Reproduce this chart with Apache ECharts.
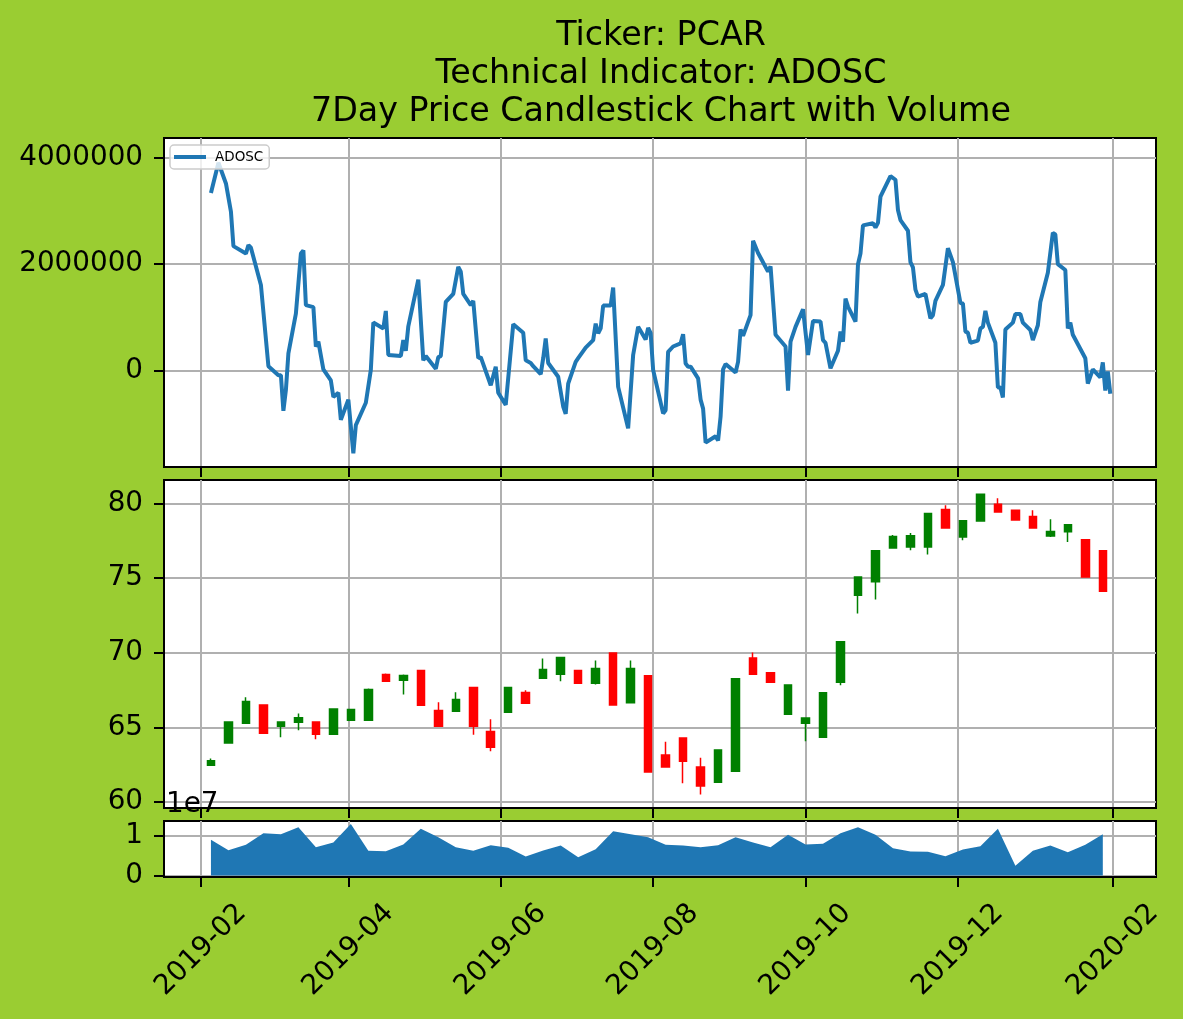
<!DOCTYPE html>
<html>
<head>
<meta charset="utf-8">
<title>PCAR ADOSC</title>
<script src="https://cdn.jsdelivr.net/npm/echarts@6/dist/echarts.min.js"></script>
<style>
  html, body { margin: 0; padding: 0; background: #9acd32; }
  #chart { width: 1183px; height: 1019px; }
</style>
</head>
<body>
<div id="chart"></div>
<script>
// ADOSC (daily)
const adoscDates = [
  '2019-02-05','2019-02-08','2019-02-11','2019-02-13','2019-02-14','2019-02-19','2019-02-20','2019-02-21','2019-02-25','2019-02-28',
  '2019-03-04','2019-03-05','2019-03-06','2019-03-07','2019-03-08','2019-03-11','2019-03-13','2019-03-14','2019-03-15','2019-03-18',
  '2019-03-19','2019-03-20','2019-03-22','2019-03-25','2019-03-26','2019-03-28','2019-03-29','2019-04-01','2019-04-03','2019-04-04',
  '2019-04-08','2019-04-10','2019-04-11','2019-04-15','2019-04-16','2019-04-17','2019-04-22','2019-04-23','2019-04-24','2019-04-25',
  '2019-04-29','2019-05-01','2019-05-02','2019-05-06','2019-05-07','2019-05-08','2019-05-10','2019-05-13','2019-05-15','2019-05-16',
  '2019-05-17','2019-05-20','2019-05-21','2019-05-23','2019-05-24','2019-05-28','2019-05-30','2019-05-31','2019-06-03','2019-06-06',
  '2019-06-10','2019-06-11','2019-06-13','2019-06-14','2019-06-17','2019-06-18','2019-06-19','2019-06-20','2019-06-24','2019-06-26',
  '2019-06-27','2019-06-28','2019-07-01','2019-07-02','2019-07-05','2019-07-08','2019-07-09','2019-07-10','2019-07-11','2019-07-12',
  '2019-07-15','2019-07-16','2019-07-18','2019-07-22','2019-07-24','2019-07-26','2019-07-29','2019-07-30','2019-07-31','2019-08-01',
  '2019-08-05','2019-08-06','2019-08-07','2019-08-09','2019-08-12','2019-08-13','2019-08-14','2019-08-15','2019-08-16','2019-08-19',
  '2019-08-20','2019-08-21','2019-08-22','2019-08-26','2019-08-27','2019-08-28','2019-08-29','2019-08-30','2019-09-03','2019-09-04',
  '2019-09-05','2019-09-06','2019-09-09','2019-09-10','2019-09-12','2019-09-16','2019-09-17','2019-09-19','2019-09-23','2019-09-24',
  '2019-09-25','2019-09-27','2019-09-30','2019-10-02','2019-10-04','2019-10-07','2019-10-08','2019-10-09','2019-10-11','2019-10-14',
  '2019-10-15','2019-10-16','2019-10-17','2019-10-18','2019-10-21','2019-10-22','2019-10-23','2019-10-24','2019-10-28','2019-10-29',
  '2019-10-30','2019-10-31','2019-11-04','2019-11-06','2019-11-07','2019-11-08','2019-11-11','2019-11-12','2019-11-13','2019-11-14',
  '2019-11-15','2019-11-18','2019-11-20','2019-11-21','2019-11-22','2019-11-25','2019-11-27','2019-11-29','2019-12-02','2019-12-03',
  '2019-12-04','2019-12-05','2019-12-06','2019-12-09','2019-12-10','2019-12-11','2019-12-12','2019-12-13','2019-12-16','2019-12-17',
  '2019-12-18','2019-12-19','2019-12-20','2019-12-23','2019-12-24','2019-12-26','2019-12-27','2019-12-30','2019-12-31','2020-01-02',
  '2020-01-03','2020-01-06','2020-01-08','2020-01-09','2020-01-10','2020-01-13','2020-01-14','2020-01-15','2020-01-16','2020-01-21',
  '2020-01-22','2020-01-24','2020-01-27','2020-01-28','2020-01-29','2020-01-30','2020-01-31'
];
const adoscValues = [
  3340000, 3910000, 3520000, 2990000, 2340000, 2200000, 2360000, 2310000, 1610000, 80000,
  -90000, -90000, -760000, -370000, 320000, 1070000, 2200000, 2260000, 1230000, 1190000,
  450000, 540000, 20000, -190000, -500000, -420000, -930000, -550000, -1560000, -1030000,
  -610000, 10000, 900000, 790000, 1120000, 290000, 270000, 570000, 370000, 830000,
  1710000, 190000, 270000, 30000, 250000, 270000, 1290000, 1440000, 1950000, 1860000,
  1440000, 1230000, 1310000, 230000, 250000, -280000, 70000, -420000, -650000, 870000,
  710000, 190000, 140000, 80000, -70000, 230000, 600000, 140000, -120000, -680000,
  -820000, -250000, 160000, 230000, 430000, 570000, 880000, 700000, 790000, 1220000,
  1220000, 1560000, -310000, -1090000, 290000, 820000, 580000, 800000, 700000, 10000,
  -810000, -750000, 350000, 450000, 510000, 680000, 130000, 70000, 70000, -150000,
  -550000, -720000, -1360000, -1240000, -1320000, -870000, 20000, 120000, -40000, 160000,
  770000, 650000, 1040000, 2440000, 2210000, 1860000, 1960000, 670000, 450000, -380000,
  540000, 820000, 1150000, 290000, 930000, 920000, 570000, 520000, 40000, 370000,
  730000, 540000, 1350000, 1200000, 920000, 2000000, 2200000, 2730000, 2770000, 2690000,
  2780000, 3270000, 3660000, 3590000, 3020000, 2830000, 2630000, 2040000, 1940000, 1520000,
  1390000, 1440000, 980000, 1040000, 1310000, 1610000, 2300000, 2040000, 1270000, 1260000,
  730000, 710000, 520000, 560000, 790000, 820000, 1120000, 900000, 520000, -320000,
  -320000, -510000, 770000, 900000, 1060000, 1060000, 900000, 760000, 570000, 850000,
  1290000, 1840000, 2590000, 2560000, 2000000, 1890000, 790000, 900000, 670000, 230000,
  -250000, 20000, -130000, 150000, -380000, -20000, -440000
];

// weekly candles
const weekDates = [
  '2019-02-05','2019-02-12','2019-02-19','2019-02-26','2019-03-05','2019-03-12','2019-03-19','2019-03-26',
  '2019-04-02','2019-04-09','2019-04-16','2019-04-23','2019-04-30','2019-05-07','2019-05-14','2019-05-21',
  '2019-05-28','2019-06-04','2019-06-11','2019-06-18','2019-06-25','2019-07-02','2019-07-09','2019-07-16',
  '2019-07-23','2019-07-30','2019-08-06','2019-08-13','2019-08-20','2019-08-27','2019-09-03','2019-09-10',
  '2019-09-17','2019-09-24','2019-10-01','2019-10-08','2019-10-15','2019-10-22','2019-10-29','2019-11-05',
  '2019-11-12','2019-11-19','2019-11-26','2019-12-03','2019-12-10','2019-12-17','2019-12-24','2019-12-31',
  '2020-01-07','2020-01-14','2020-01-21','2020-01-28'
];
const opens  = [62.46, 63.96, 65.27, 66.50, 65.07, 65.34, 65.36, 64.54, 65.47, 65.47, 68.54, 68.16, 68.80,
                66.12, 66.08, 67.66, 64.72, 66.01, 67.33, 68.29, 68.56, 68.80, 67.96, 69.97, 66.64, 68.45,
                63.15, 64.29, 62.35, 61.32, 62.06, 69.65, 68.65, 65.88, 65.27, 64.34, 68.02, 73.85, 74.75,
                77.01, 77.07, 77.07, 79.58, 77.74, 78.82, 79.93, 79.53, 79.11, 77.81, 78.10, 77.56, 76.83];
const closes = [62.77, 65.36, 66.73, 64.60, 65.36, 65.65, 64.54, 66.23, 66.19, 67.53, 68.09, 68.47, 66.48,
                65.07, 66.86, 65.07, 63.67, 67.66, 66.61, 68.87, 69.68, 67.96, 68.94, 66.50, 68.94, 62.01,
                62.35, 62.73, 61.07, 63.49, 68.25, 68.56, 68.02, 67.84, 65.63, 67.31, 70.73, 75.06, 76.83,
                77.77, 77.83, 79.31, 78.35, 78.84, 80.60, 79.42, 78.88, 78.35, 78.12, 78.57, 75.06, 74.12];
const lows   = [62.46, 63.96, 65.27, 64.60, 64.33, 64.80, 64.20, 64.54, 65.47, 65.47, 68.09, 67.20, 66.48,
                65.07, 66.08, 64.51, 63.40, 66.01, 66.61, 68.29, 68.09, 67.96, 67.87, 66.45, 66.64, 62.01,
                62.35, 61.25, 60.51, 61.32, 62.06, 68.56, 68.02, 65.88, 64.07, 64.34, 67.82, 72.63, 73.56,
                77.01, 76.85, 76.58, 78.35, 77.52, 78.82, 79.42, 78.88, 78.35, 77.74, 77.41, 75.06, 74.12];
const highs  = [62.91, 65.40, 67.02, 66.50, 65.36, 65.92, 65.36, 66.23, 66.19, 67.60, 68.60, 68.54, 68.80,
                66.68, 67.35, 67.66, 65.54, 67.66, 67.49, 69.61, 69.68, 68.80, 69.47, 69.97, 69.47, 68.45,
                64.04, 64.29, 62.97, 63.49, 68.25, 70.01, 68.65, 67.84, 65.63, 67.31, 70.73, 75.06, 76.83,
                77.88, 78.01, 79.31, 79.87, 78.84, 80.60, 80.34, 79.53, 79.53, 78.93, 78.57, 77.56, 76.83];
const volumes = [9070000, 6440000, 7800000, 10760000, 10500000, 12290000, 7200000, 8390000, 13100000, 6270000,
                 6190000, 7880000, 11860000, 9750000, 7200000, 6270000, 7710000, 7030000, 4830000, 6360000,
                 7630000, 4660000, 6690000, 11270000, 10500000, 9750000, 7800000, 7630000, 7200000, 7710000,
                 9750000, 8390000, 7200000, 10340000, 7880000, 8050000, 10760000, 12290000, 10340000, 6950000,
                 6100000, 6020000, 4920000, 6610000, 7460000, 11860000, 2460000, 6270000, 7630000, 5930000,
                 7800000, 10500000];

// axis ticks
const monthTicks = ['2019-02-01','2019-04-01','2019-06-01','2019-08-01','2019-10-01','2019-12-01','2020-02-01'];
const adoscTicks = [0, 2000000, 4000000];
const priceTicks = [60, 65, 70, 75, 80];
const volTicks = [0, 10000000];

const titleLines = ['Ticker: PCAR', 'Technical Indicator: ADOSC', '7Day Price Candlestick Chart with Volume'];

const FONT = 'DejaVu Sans';
const ts = d => new Date(d + 'T00:00:00').getTime();
const xMin = new Date('2019-01-17T05:00:00').getTime();
const xMax = new Date('2020-02-18T07:00:00').getTime();
const monthTickTs = monthTicks.map(ts);

const adoscData = adoscDates.map((d, i) => [ts(d), adoscValues[i]]);
const candleData = weekDates.map((d, i) => [ts(d), opens[i], closes[i], lows[i], highs[i]]);
const volData = weekDates.map((d, i) => [ts(d), volumes[i]]);

function monthLabel(v) {
    const d = new Date(v);
    return d.getFullYear() + '-' + String(d.getMonth() + 1).padStart(2, '0');
}

function makeX(gridIndex, withLabels) {
    return {
        type: 'value',
        gridIndex: gridIndex,
        min: xMin,
        max: xMax,
        scale: true,
        axisLine: { show: true, onZero: false, lineStyle: { color: '#000', width: 2 } },
        axisTick: { show: true, length: 10, lineStyle: { color: '#000', width: 2 }, customValues: monthTickTs },
        axisLabel: withLabels ? {
            show: true,
            customValues: monthTickTs,
            formatter: monthLabel,
            rotate: 45,
            align: 'center',
            verticalAlign: 'middle',
            margin: 73,
            fontSize: 27.8,
            fontFamily: FONT,
            color: '#000'
        } : { show: false },
        splitLine: { show: true, lineStyle: { color: '#b0b0b0', width: 2 } }
    };
}

function makeY(gridIndex, min, max, ticks, fmt) {
    return {
        type: 'value',
        gridIndex: gridIndex,
        min: min,
        max: max,
        axisLine: { show: true, onZero: false, lineStyle: { color: '#000', width: 2 } },
        axisTick: { show: true, length: 10, lineStyle: { color: '#000', width: 2 }, customValues: ticks },
        axisLabel: {
            customValues: ticks,
            formatter: fmt,
            margin: 21,
            fontSize: 27.8,
            fontFamily: FONT,
            color: '#000'
        },
        splitLine: { show: true, lineStyle: { color: '#b0b0b0', width: 2 } }
    };
}

const gridBase = { left: 164, right: 27, show: true, backgroundColor: '#fff', borderColor: '#000', borderWidth: 2 };

const options = {
    backgroundColor: '#9acd32',
    animation: false,
    textStyle: { fontFamily: FONT },
    grid: [
        Object.assign({ top: 138, height: 329 }, gridBase),
        Object.assign({ top: 480, height: 328 }, gridBase),
        Object.assign({ top: 821, height: 56 }, gridBase)
    ],
    legend: {
        data: [{ name: 'ADOSC', icon: 'rect' }],
        left: 170,
        top: 145,
        itemWidth: 32,
        itemHeight: 4,
        itemGap: 6,
        padding: [5, 6, 5, 4],
        backgroundColor: 'rgba(255,255,255,0.8)',
        borderColor: '#cccccc',
        borderWidth: 1.5,
        borderRadius: 4,
        textStyle: { fontSize: 13.5, color: '#000', fontFamily: FONT, padding: [0, 0, 0, 4] }
    },
    xAxis: [makeX(0, false), makeX(1, false), makeX(2, true)],
    yAxis: [
        makeY(0, -1819000, 4376000, adoscTicks, v => String(v)),
        makeY(1, 59.6, 81.56, priceTicks, v => String(v)),
        makeY(2, -380000, 13850000, volTicks, v => String(Math.round(v / 1e7)))
    ],
    graphic: titleLines.map((t, i) => ({
        type: 'text',
        z: 100,
        style: {
            text: t,
            x: 661,
            y: [36, 74, 112][i],
            align: 'center',
            verticalAlign: 'middle',
            fontSize: 33.3,
            fontFamily: FONT,
            fill: '#000'
        }
    })).concat([{
        type: 'text',
        z: 100,
        style: {
            text: '1e7',
            x: 166,
            y: 805,
            align: 'left',
            verticalAlign: 'middle',
            fontSize: 27.8,
            fontFamily: FONT,
            fill: '#000'
        }
    }]),
    series: [
        {
            name: 'ADOSC',
            type: 'line',
            xAxisIndex: 0,
            yAxisIndex: 0,
            data: adoscData,
            symbol: 'none',
            color: '#1f77b4',
            lineStyle: { color: '#1f77b4', width: 4 }
        },
        {
            name: 'Price',
            type: 'candlestick',
            xAxisIndex: 1,
            yAxisIndex: 1,
            data: candleData,
            encode: { x: 0, y: [1, 2, 3, 4] },
            barWidth: 8,
            itemStyle: {
                color: '#008000',
                color0: '#ff0000',
                borderColor: '#008000',
                borderColor0: '#ff0000',
                borderWidth: 1.5
            }
        },
        {
            name: 'Volume',
            type: 'line',
            xAxisIndex: 2,
            yAxisIndex: 2,
            data: volData,
            symbol: 'none',
            lineStyle: { width: 0 },
            areaStyle: { color: '#1f77b4', opacity: 1 }
        }
    ]
};

const E = echarts.init(document.getElementById('chart'));
window.onresize = function () {
    E.resize();
};
E.setOption(options);
</script>
</body>
</html>
